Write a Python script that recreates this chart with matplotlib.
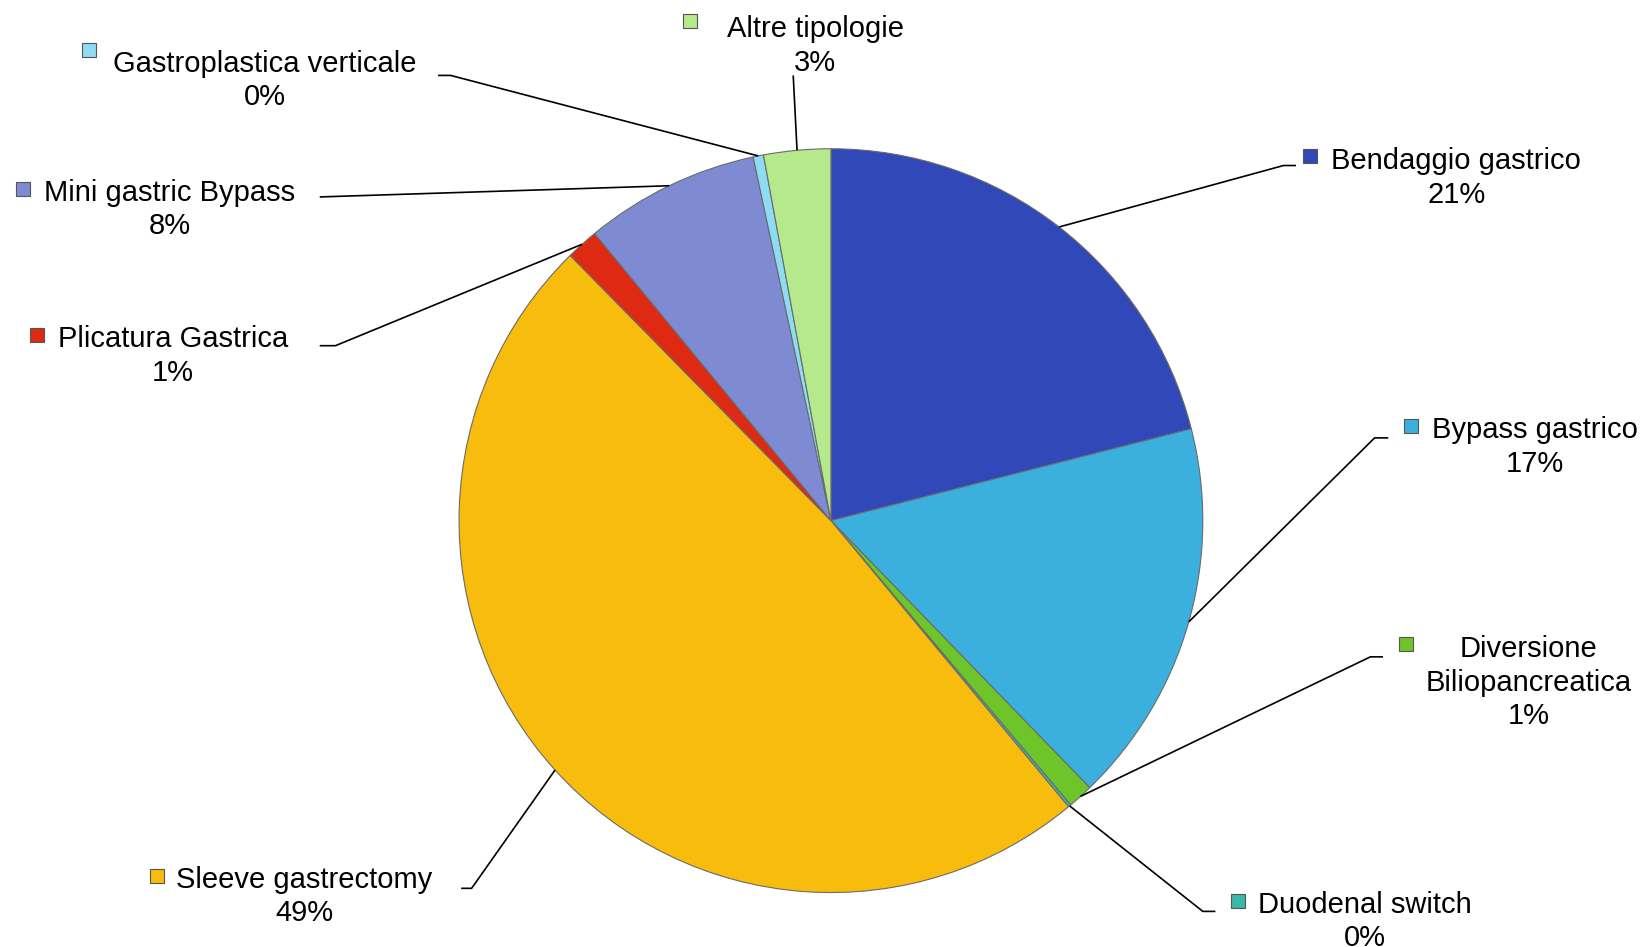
import numpy as np
import matplotlib
matplotlib.use("Agg")
import matplotlib.pyplot as plt

plt.rcParams['font.family'] = ['Liberation Sans', 'DejaVu Sans']

# data (clockwise from 12 o'clock)
categories = ["Bendaggio gastrico", "Bypass gastrico", "Diversione\nBiliopancreatica",
              "Duodenal switch", "Sleeve gastrectomy", "Plicatura Gastrica",
              "Mini gastric Bypass", "Gastroplastica verticale", "Altre tipologie"]
values = [21.0, 16.7, 1.1, 0.12, 48.6, 1.4, 7.6, 0.45, 2.9]
colors = ["#3048B8", "#3BB0DE", "#6EC52A", "#3CB8A8", "#F8BC0C",
          "#DE2A12", "#7E8AD2", "#8EDCF2", "#B6E98C"]

# layout in a 1568 x 904 frame (y down), converted below
W, H = 1568, 904
center = (793, 497)
radius = 355
# text centre (first line), leader elbow, leader text-end, marker position
text_pos = [(1390, 151), (1465, 408), (1459, 617), (1303, 861), (290, 837),
            (165, 321), (162, 181), (253, 58), (778, 25)]
elbow = [(1225, 158), (1312, 418), (1308, 627), (1148, 870), (450, 848),
         (320, 330), (305, 188), (430, 72), (757, 72)]
line_end = [(1237, 158), (1325, 418), (1320, 627), (1160, 870), (440, 848),
            (305, 330), (305, 188), (418, 72), (757, 72)]
marker_pos = [(1250, 149), (1347, 407), (1342, 615), (1182, 860), (150, 836),
              (35, 320), (22, 180), (85, 48), (658, 20)]
line_step = 32


def fy(y):
    return H - y


fig = plt.figure(figsize=(16.43, 9.47), dpi=100)
ax = fig.add_axes([0, 0, 1, 1])

wedges, _ = ax.pie(values, colors=colors, startangle=90, counterclock=False,
                   center=(center[0], fy(center[1])), radius=radius,
                   wedgeprops=dict(edgecolor="#6b6b6b", linewidth=0.8),
                   frame=True)
ax.set_xlim(0, W)
ax.set_ylim(0, H)
ax.axis('off')

total = sum(values)
for i, w in enumerate(wedges):
    mid = np.deg2rad((w.theta1 + w.theta2) / 2)
    ax_pt = (center[0] + radius * np.cos(mid), fy(center[1]) + radius * np.sin(mid))
    ex, ey = elbow[i]
    lx, ly = line_end[i]
    ax.plot([ax_pt[0], ex, lx], [ax_pt[1], fy(ey), fy(ly)], color="black", lw=1.2,
            solid_capstyle='butt')
    pct = round(values[i] / total * 100)
    tx, ty = text_pos[i]
    lines = categories[i].split("\n") + [f"{pct}%"]
    for k, s in enumerate(lines):
        ax.text(tx, fy(ty + k * line_step), s, ha='center', va='center_baseline',
                fontsize=21, color="black")
    mx, my = marker_pos[i]
    ax.plot(mx, fy(my), marker='s', markersize=10, color=colors[i],
            markeredgecolor="#555555", markeredgewidth=0.8)

fig.savefig("out.png", dpi=100)
